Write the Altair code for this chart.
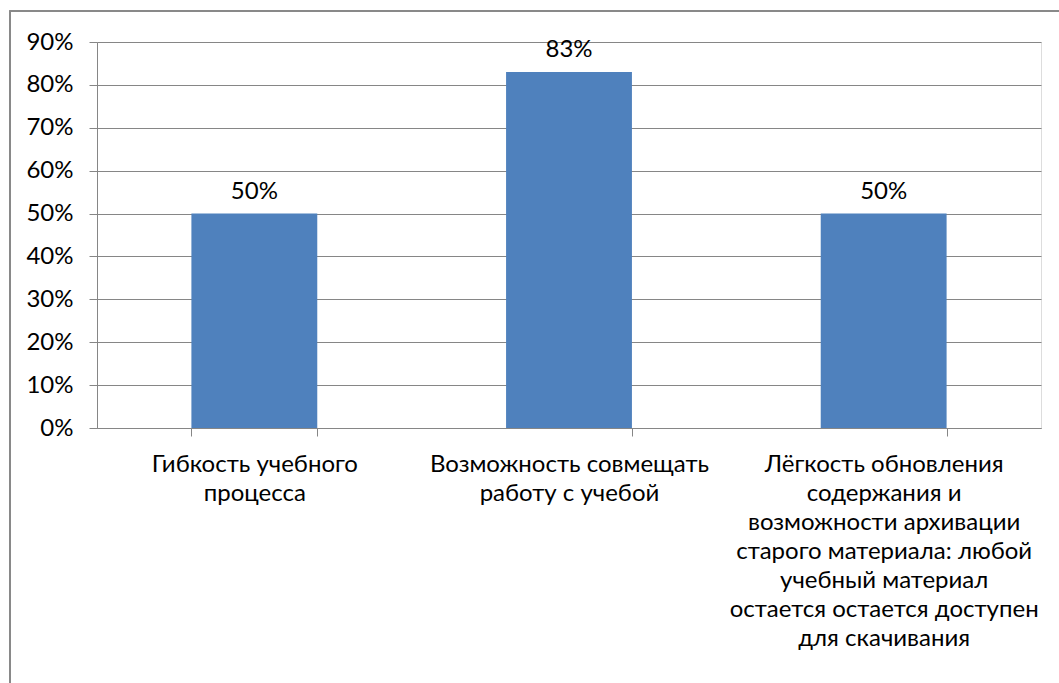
import altair as alt
import pandas as pd

categories = [
    "Гибкость учебного\nпроцесса",
    "Возможность совмещать\nработу с учебой",
    "Лёгкость обновления\nсодержания и\nвозможности архивации\nстарого материала: любой\nучебный материал\nостается остается доступен\nдля скачивания",
]
values = [0.50, 0.83, 0.50]
labels = ["50%", "83%", "50%"]
y_ticks = [0, 0.1, 0.2, 0.3, 0.4, 0.5, 0.6, 0.7, 0.8, 0.9]

df = pd.DataFrame({"cat": categories, "val": values, "lab": labels})

FONT = "Lato"
FS = 24
GRID = "#868686"

x = alt.X("cat:N", sort=categories, title=None,
          scale=alt.Scale(paddingInner=0.6, paddingOuter=0.3),
          axis=alt.Axis(labelAngle=0, labelExpr="split(datum.label, '\\n')",
                        labelFontSize=FS, labelFont=FONT, labelColor="#000000",
                        labelLineHeight=29, labelLimit=0, labelPadding=16,
                        labelBaseline="top",
                        tickBand="extent", tickSize=8, tickColor=GRID,
                        domainColor=GRID, grid=False))
y = alt.Y("val:Q", title=None,
          scale=alt.Scale(domain=[0, 0.9], nice=False),
          axis=alt.Axis(values=y_ticks, format=".0%", labelFontSize=FS,
                        labelFont=FONT, labelColor="#000000", labelPadding=16,
                        tickSize=8, tickColor=GRID, domainColor=GRID,
                        gridColor=GRID, gridOpacity=1))

bars = alt.Chart(df).mark_bar(color="#4F81BD").encode(x=x, y=y)
text = alt.Chart(df).mark_text(baseline="middle", dy=-22, fontSize=FS,
                               font=FONT, color="#000000").encode(
    x=alt.X("cat:N", sort=categories), y="val:Q", text="lab:N")

border = alt.Chart(df).mark_rect(fill=None, stroke="#888888", strokeWidth=1.5).encode(
    x=alt.value(-87), x2=alt.value(1100), y=alt.value(-31), y2=alt.value(800))

chart = alt.layer(border, bars, text).properties(
    width=944, height=386,
    autosize="none",
    padding={"left": 97, "top": 42, "right": 18, "bottom": 255},
).configure_view(stroke=None).configure(background="white")

chart.save("out.html", embed_options={"renderer": "svg", "actions": False})
